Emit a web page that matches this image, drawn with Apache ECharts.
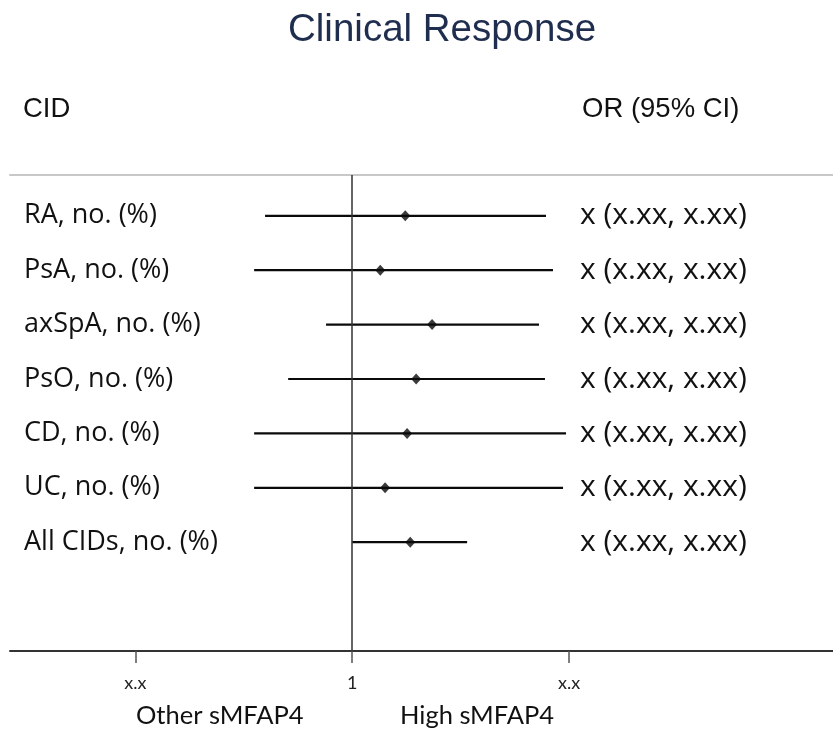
<!DOCTYPE html>
<html><head><meta charset="utf-8">
<script src="https://cdn.jsdelivr.net/npm/echarts@6/dist/echarts.min.js"></script>
<style>html,body{margin:0;padding:0;background:#fff}#c{width:833px;height:734px}</style>
</head><body><div id="c"></div>
<script>
const categories = ['RA, no. (%)', 'PsA, no. (%)', 'axSpA, no. (%)', 'PsO, no. (%)', 'CD, no. (%)', 'UC, no. (%)', 'All CIDs, no. (%)'];
const orText = ['x (x.xx, x.xx)', 'x (x.xx, x.xx)', 'x (x.xx, x.xx)', 'x (x.xx, x.xx)', 'x (x.xx, x.xx)', 'x (x.xx, x.xx)', 'x (x.xx, x.xx)'];
const orValues = [1.185, 1.094, 1.291, 1.227, 1.192, 1.111, 1.204];
const ciLow = [0.757, 0.731, 0.920, 0.815, 0.731, 0.731, 1.0];
const ciHigh = [1.858, 1.900, 1.817, 1.852, 1.981, 1.962, 1.444];
const tickValues = [0.5, 1, 2];
const tickLabels = ['x.x', '1', 'x.x'];
const rowIndex = categories.map((_, i) => i);

const chart = echarts.init(document.getElementById('c'), null, {renderer: 'canvas'});
const X_MIN = 0.335, X_MAX = 4.65, Y_MIN = -0.75, Y_MAX = 8;
const option = {
  backgroundColor: '#fff',
  animation: false,
  title: [
    {text: 'Clinical Response', left: 288, top: 11, padding: 0,
     textStyle: {fontFamily: 'Liberation Sans', fontSize: 38.5, fontWeight: 'normal', color: '#1f2d4e'}},
    {text: 'CID', left: 23, top: 95, padding: 0,
     textStyle: {fontFamily: 'Liberation Sans', fontSize: 27.5, fontWeight: 'normal', color: '#111'}},
    {text: 'OR (95% CI)', left: 582, top: 95, padding: 0,
     textStyle: {fontFamily: 'Liberation Sans', fontSize: 27.5, fontWeight: 'normal', color: '#111'}},
    {text: 'Other sMFAP4', left: 136, top: 703, padding: 0,
     textStyle: {fontFamily: 'Lato', fontSize: 25.5, fontWeight: 'normal', color: '#111'}},
    {text: 'High sMFAP4', left: 400, top: 703, padding: 0,
     textStyle: {fontFamily: 'Lato', fontSize: 25.5, fontWeight: 'normal', color: '#111'}}
  ],
  grid: {left: 10, right: 0, top: 175, bottom: 83, containLabel: false},
  xAxis: [
    {type: 'log', logBase: 2, min: X_MIN, max: X_MAX, position: 'bottom',
     axisLine: {show: true, onZero: false, lineStyle: {color: '#333', width: 2}},
     axisTick: {show: true, customValues: tickValues, length: 12, lineStyle: {color: '#555', width: 1.5}},
     axisLabel: {show: true, customValues: tickValues, margin: 23, fontFamily: 'Lato', fontSize: 18, color: '#222',
       formatter: v => { const k = tickValues.findIndex(t => Math.abs(t - v) < 1e-9); return k >= 0 ? tickLabels[k] : ''; }},
     splitLine: {show: false}, minorTick: {show: false}},
    {type: 'log', logBase: 2, min: X_MIN, max: X_MAX, position: 'top',
     axisLine: {show: true, onZero: false, lineStyle: {color: '#c8c8c8', width: 2}},
     axisTick: {show: false}, axisLabel: {show: false}, splitLine: {show: false}}
  ],
  yAxis: [
    {type: 'value', inverse: true, min: Y_MIN, max: Y_MAX, position: 'left',
     axisLine: {show: false, onZero: false}, axisTick: {show: false}, splitLine: {show: false},
     axisLabel: {show: true, inside: true, customValues: rowIndex, margin: 14, align: 'left',
       fontFamily: 'Open Sans', fontSize: 27, color: '#111',
       formatter: v => categories[Math.round(v)] || ''}},
    {type: 'value', inverse: true, min: Y_MIN, max: Y_MAX, position: 'left', offset: -570,
     axisLine: {show: false, onZero: false}, axisTick: {show: false}, splitLine: {show: false},
     axisLabel: {show: true, inside: true, customValues: rowIndex, margin: 0, align: 'left',
       fontFamily: 'Open Sans', fontSize: 30, color: '#111',
       formatter: v => orText[Math.round(v)] || ''}}
  ],
  series: [
    {type: 'custom', xAxisIndex: 0, yAxisIndex: 0,
     data: rowIndex.map(i => [ciLow[i], ciHigh[i], i]),
     encode: {x: [0, 1], y: 2},
     renderItem: (params, api) => {
       const a = api.coord([api.value(0), api.value(2)]);
       const b = api.coord([api.value(1), api.value(2)]);
       return {type: 'line', shape: {x1: a[0], y1: a[1], x2: b[0], y2: b[1]},
               style: {stroke: '#0a0a0a', lineWidth: 2.2}};
     },
     silent: true, z: 3},
    {type: 'scatter', xAxisIndex: 0, yAxisIndex: 0,
     data: rowIndex.map(i => [orValues[i], i]),
     symbol: 'diamond', symbolSize: [10, 11],
     itemStyle: {color: '#0a0a0a'}, z: 4, silent: true,
     markLine: {silent: true, symbol: 'none', label: {show: false},
       lineStyle: {color: '#333', width: 1.5, type: 'solid'},
       data: [{xAxis: 1}]}}
  ]
};
chart.setOption(option);
</script></body></html>
